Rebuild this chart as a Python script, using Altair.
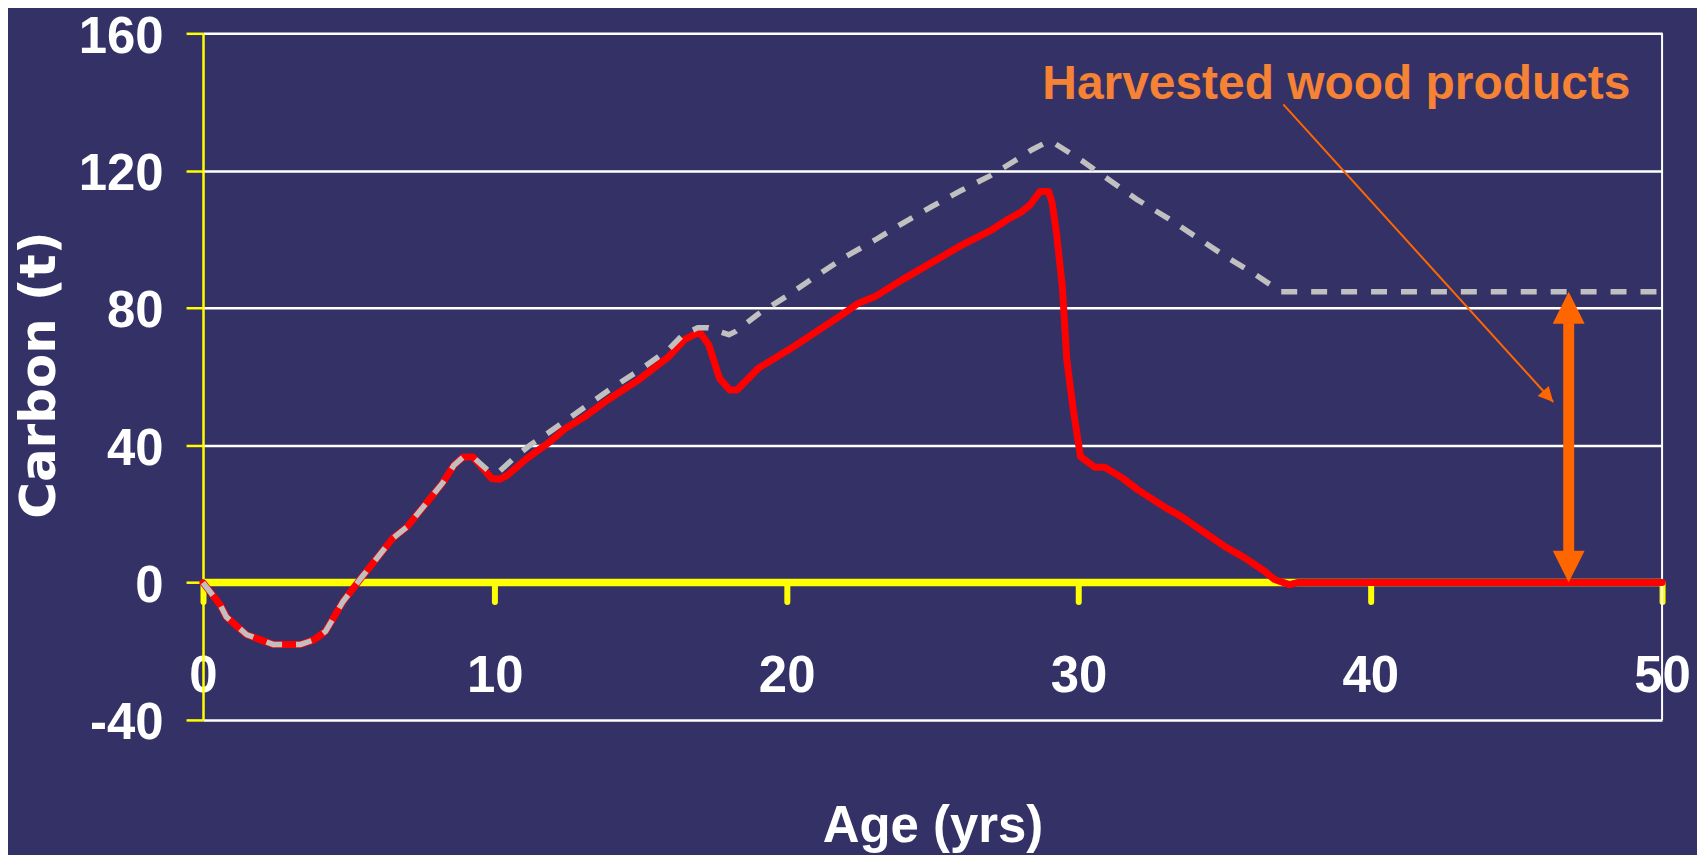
import altair as alt
import pandas as pd

# ---------------- data ----------------
RED_AGE = [0, 0.59, 0.8, 1.5, 2.4, 3.35, 3.8, 4.2, 4.8, 5.45, 6.5, 7.0, 8.2, 8.6, 8.92, 9.25,
           9.9, 10.17, 10.43, 11.09, 11.88, 12.4, 13.06, 13.85, 14.9, 15.96, 16.5, 16.9, 17.06,
           17.33, 17.7, 18.05, 18.3, 19.04, 20.07, 21.89, 22.46, 23.03, 23.94, 26.0, 27.02,
           27.54, 28.05, 28.34, 28.68, 28.98, 29.1, 29.25, 29.45, 29.6, 29.82, 30.07, 30.56,
           30.9, 31.5, 32.04, 33.01, 33.52, 34.1, 35.0, 35.7, 36.38, 36.72, 37.23, 37.5, 50]
RED_CARBON = [0, -6.5, -10, -15.2, -18, -18, -16.7, -14.2, -5.5, 1.7, 12.9, 16.3, 28.9, 34.2, 36.6, 36.6,
              30.3, 30.1, 31.3, 36.1, 41, 44.8, 48.2, 53.1, 58.9, 65.8, 70.8, 72.5, 72.5,
              69.3, 59.5, 56.1, 56.1, 62.5, 67.8, 78, 81.4, 83.3, 88.1, 98.3, 102.7,
              105.6, 108, 110, 113.9, 113.9, 110.5, 101.7, 86, 65, 50.5, 36.7, 33.6,
              33.6, 30.5, 27, 21.7, 19.3, 15.9, 10.6, 7.2, 3.3, 0.9, -0.6, 0, 0]

GREY_AGE = [0, 0.59, 0.8, 1.5, 2.4, 3.35, 3.8, 4.2, 4.8, 5.45, 6.5, 7.0, 8.2, 8.6, 8.92, 9.25,
            9.84, 10.17, 10.7, 11.2, 11.88, 12.93, 13.98, 15.03, 15.94, 16.47, 16.95, 17.32,
            18.02, 18.24, 19.04, 20.07, 20.98, 22.01, 23.03, 24.06, 24.97, 26.0, 27.02, 27.94,
            28.39, 28.91, 29.19, 30.1, 31.02, 32.04, 33.07, 34.1, 35.06, 36.09, 36.94, 37.2, 50]
GREY_CARBON = [0, -6.5, -10, -15.2, -18, -18, -16.7, -14.2, -5.5, 1.7, 12.9, 16.3, 28.9, 34.2, 36.6, 36.6,
               32.1, 32.5, 36.6, 40, 43.9, 50.2, 56.5, 62.3, 67.8, 72.4, 74.2, 74.2,
               72.2, 73.1, 78.3, 83.8, 89.1, 94.9, 99.8, 105.1, 109.5, 114.3, 118.7, 123.5,
               126, 128.3, 127.9, 123, 117.5, 111.4, 106.1, 100.3, 94.9, 89.6, 84.7, 84.7, 84.7]

X_TICKS = [0, 10, 20, 30, 40, 50]
Y_TICKS = [-40, 0, 40, 80, 120, 160]
X_DOMAIN = [0, 50]
Y_DOMAIN = [-40, 160]

ANNOT_TEXT = ["Harvested wood products"]
ANNOT_AT = [38.84, 141.0]          # age, carbon of the label
POINTER_FROM = [37.02, 139.3]      # thin arrow start
POINTER_TO = [46.27, 52.6]         # thin arrow tip
HWP_AGE = 46.8                     # double arrow position
HWP_RANGE = [0, 84.7]              # from zero to the products level

# ---------------- layout ----------------
W, H = 1462, 688
BG = "#343166"
YELLOW = "#FFFF00"
ORANGE = "#FF6600"
FONT_N = "'Liberation Sans Narrow', 'Liberation Sans', Arial, sans-serif"

px_per_y = H / (Y_DOMAIN[1] - Y_DOMAIN[0])
zero_px = H * (Y_DOMAIN[1] - 0) / (Y_DOMAIN[1] - Y_DOMAIN[0])
head_units = 29 / px_per_y

xscale = alt.Scale(domain=X_DOMAIN, nice=False, zero=False)
yscale = alt.Scale(domain=Y_DOMAIN, nice=False, zero=False)

xaxis = alt.Axis(
    values=X_TICKS, offset=zero_px - H, domain=False, grid=False,
    ticks=True, tickColor=YELLOW, tickWidth=6, tickSize=19, tickCap="round",
    labelColor="white", labelFont=FONT_N, labelFontWeight="bold", labelFontSize=51,
    labelPadding=90, labelBaseline="alphabetic", labelFlush=False, labelOverlap=False,
    labelExpr="'' + datum.value",
    title="Age (yrs)", titleFont=FONT_N, titleFontSize=51, titleFontWeight="bold",
    titleColor="white", titleX=W / 2, titleY=259, titleBaseline="alphabetic", titleAlign="center",
)
yaxis = alt.Axis(
    values=Y_TICKS, domain=True, domainColor=YELLOW, domainWidth=2.5,
    ticks=True, tickColor=YELLOW, tickWidth=2.5, tickSize=17,
    grid=True, gridColor="white", gridWidth=2.5,
    labelColor="white", labelFont=FONT_N, labelFontWeight="bold", labelFontSize=51,
    labelPadding=23, labelOffset=4, labelExpr="'' + datum.value", labelFlush=False, labelOverlap=False,
    title="Carbon (t)", titleFont="DejaVu Sans", titleFontSize=50, titleFontWeight="bold",
    titleColor="white", titleAngle=270, titleX=-149, titleY=342,
    titleBaseline="alphabetic", titleAlign="center",
)


def X(field):
    return alt.X(field, scale=xscale, axis=xaxis)


def Y(field):
    return alt.Y(field, scale=yscale, axis=yaxis)


red_df = pd.DataFrame({"age": RED_AGE, "carbon": RED_CARBON})
grey_df = pd.DataFrame({"age": GREY_AGE, "carbon": GREY_CARBON})

# frame: right border
border = alt.Chart(pd.DataFrame({"age": [X_DOMAIN[1]], "carbon": [Y_DOMAIN[0]], "c1": [Y_DOMAIN[1]]})).mark_rule(
    color="white", strokeWidth=2
).encode(x=X("age:Q"), y=Y("carbon:Q"), y2="c1:Q")

zero_line = alt.Chart(pd.DataFrame({"age": [X_DOMAIN[0]], "a1": [X_DOMAIN[1]], "carbon": [0]})).mark_rule(
    color=YELLOW, strokeWidth=7.5
).encode(x=X("age:Q"), x2="a1:Q", y=Y("carbon:Q"))

red_line = alt.Chart(red_df).mark_line(
    color="#FF0000", strokeWidth=7, strokeCap="round", strokeJoin="round"
).encode(x=X("age:Q"), y=Y("carbon:Q"), order="age:Q")

grey_line = alt.Chart(grey_df).mark_line(
    color="#C0C0C0", strokeWidth=5.5, strokeDash=[16, 14], strokeJoin="round"
).encode(x=X("age:Q"), y=Y("carbon:Q"), order="age:Q")

shaft = alt.Chart(pd.DataFrame({"age": [HWP_AGE], "carbon": [HWP_RANGE[0] + head_units],
                                "c1": [HWP_RANGE[1] - head_units]})).mark_rule(
    color=ORANGE, strokeWidth=11
).encode(x=X("age:Q"), y=Y("carbon:Q"), y2="c1:Q")

head_up = alt.Chart(pd.DataFrame({"age": [HWP_AGE], "carbon": [HWP_RANGE[1]]})).mark_point(
    shape="M0,0L1,2L-1,2Z", size=1024, filled=True, color=ORANGE, opacity=1, strokeWidth=0
).encode(x=X("age:Q"), y=Y("carbon:Q"))

head_down = alt.Chart(pd.DataFrame({"age": [HWP_AGE], "carbon": [HWP_RANGE[0]]})).mark_point(
    shape="M0,0L1,-2L-1,-2Z", size=1024, filled=True, color=ORANGE, opacity=1, strokeWidth=0
).encode(x=X("age:Q"), y=Y("carbon:Q"))

pointer = alt.Chart(pd.DataFrame({"age": [POINTER_FROM[0]], "carbon": [POINTER_FROM[1]],
                                  "a1": [POINTER_TO[0]], "c1": [POINTER_TO[1]]})).mark_rule(
    color=ORANGE, strokeWidth=2
).encode(x=X("age:Q"), x2="a1:Q", y=Y("carbon:Q"), y2="c1:Q")

pointer_head = alt.Chart(pd.DataFrame({"age": [POINTER_TO[0]], "carbon": [POINTER_TO[1]]})).mark_point(
    shape="M0,0L1,2L-1,2Z", size=225, filled=True, color=ORANGE, opacity=1, strokeWidth=0, angle=137.8
).encode(x=X("age:Q"), y=Y("carbon:Q"))

label = alt.Chart(pd.DataFrame({"age": [ANNOT_AT[0]], "carbon": [ANNOT_AT[1]], "txt": ANNOT_TEXT})).mark_text(
    font="Liberation Sans", fontWeight="bold", fontSize=48, color="#F58235",
    align="center", baseline="alphabetic"
).encode(x=X("age:Q"), y=Y("carbon:Q"), text="txt:N")

chart = alt.layer(
    border, zero_line, red_line, grey_line, shaft, head_up, head_down, pointer, pointer_head, label
).properties(
    width=W, height=H,
    autosize=alt.AutoSizeParams(type="none"),
    padding={"left": 195.4, "top": 24.5, "right": 35, "bottom": 134},
    background=BG,
).configure_view(stroke=None)

chart.save("out.html", embed_options={"renderer": "svg", "actions": False})
